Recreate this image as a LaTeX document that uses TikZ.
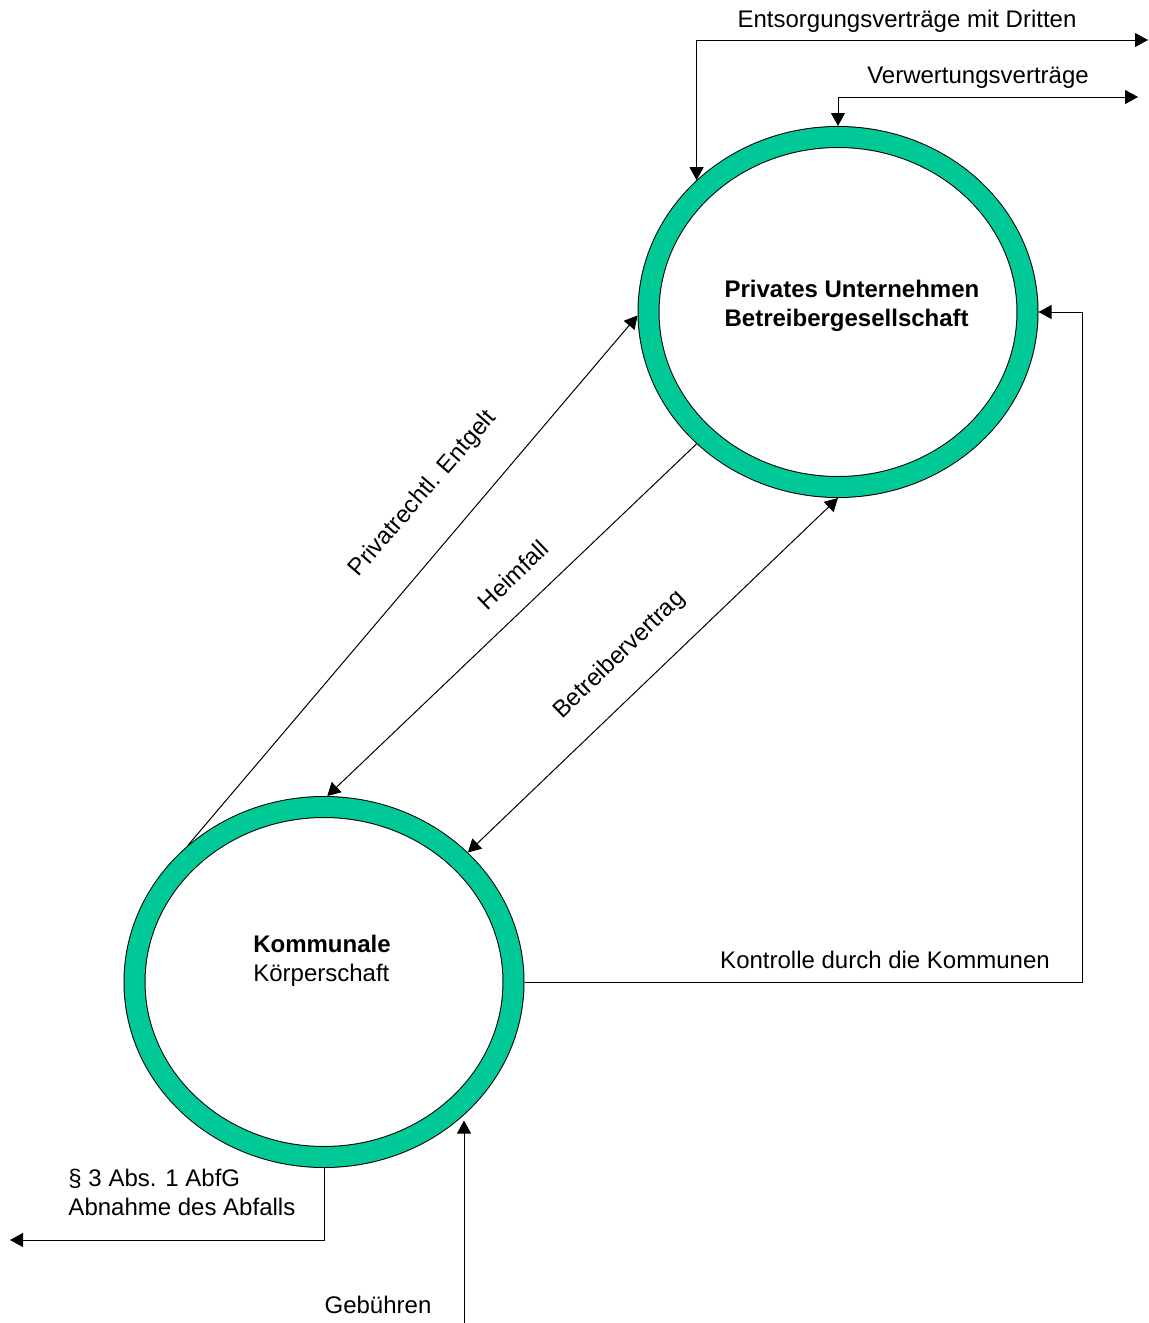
\documentclass[tikz,border=0pt]{standalone}
\usepackage{fontspec}
\setmainfont{Liberation Sans}
\usetikzlibrary{shapes.geometric,arrows.meta}
\definecolor{ringgreen}{RGB}{0,200,150}

\tikzset{
  ring/.style={ellipse, draw=black, line width=0.5pt, double=ringgreen,
    double distance=10pt, outer sep=5.5pt, inner sep=0pt,
    minimum width=189.5pt, minimum height=175pt},
  partner/.style={align=left, inner sep=0pt}
}

\begin{document}
\begin{tikzpicture}[x=0.5pt,y=-0.5pt,line width=0.5pt,
  >={Triangle[length=6.5pt,width=7pt]},
  font=\fontsize{12}{14.5}\selectfont]

\useasboundingbox (0,0) rectangle (1149,1323);

% The two partners
\node[ring] (priv) at (838,312) {};
\node[ring] (komm) at (324,982) {};
\node[partner,font=\fontsize{12}{14.5}\selectfont\bfseries] (privtxt) at (852,306) {Privates Unternehmen\\Betreibergesellschaft};
\node[partner] (kommtxt) at (322,961) {\textbf{Kommunale}\\Körperschaft};

% Contracts with third parties
\coordinate (entsEnd) at (1148,40);
\draw[<->] (priv.137) |- (entsEnd);
\node (entsLbl) at (907,21) {Entsorgungsverträge mit Dritten};
\coordinate (verwEnd) at (1138,97);
\draw[<->] (priv.north) |- (verwEnd);
\node (verwLbl) at (978,78) {Verwertungsverträge};

% Control loop back to the company
\coordinate (kontrEck) at (1082,312);
\draw[->] (komm.east) -| (kontrEck) -- (priv.east);
\node (kontrLbl) at (885,960) {Kontrolle durch die Kommunen};

% Links between the partners
\draw[->] (komm.135) -- (priv.181);
\node[rotate=49] (entgLbl) at (423,494) {Privatrechtl. Entgelt};
\draw[->] (priv.223) -- (komm.89);
\node[rotate=44] (heimLbl) at (513,575) {Heimfall};
\draw[<->] (komm.42) -- (priv.south);
\node[rotate=44] (betrLbl) at (620,655) {Betreibervertrag};

% Waste and fees
\coordinate (abnEnd) at (10,1240);
\draw[->] (komm.south) |- (abnEnd);
\node[partner,anchor=west] (abnLbl) at (68,1192) {§ 3 Abs. 1 AbfG\\Abnahme des Abfalls};
\coordinate (gebStart) at (464,1323);
\draw[->] (gebStart) -- (gebStart |- komm.314);
\node (gebLbl) at (378,1305) {Gebühren};

\end{tikzpicture}
\end{document}
